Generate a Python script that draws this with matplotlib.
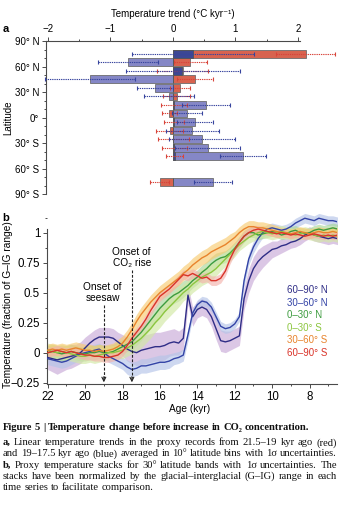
import numpy as np
import matplotlib
matplotlib.use('Agg')
import matplotlib.pyplot as plt
from matplotlib.ticker import MultipleLocator

plt.rcParams['font.family'] = ['Liberation Sans', 'DejaVu Sans']
plt.rcParams['axes.unicode_minus'] = True

# ---------------- Panel a data ----------------
lat_bins = [75, 65, 55, 45, 35, 25, 15, 5, -5, -15, -25, -35, -45, -75]
red_trend = [2.12, 0.28, 0.15, 0.35, 0.11, 0.06, 0.02, -0.06, 0.02, -0.05, 0.01, 0.02, 0.03, -0.21]
red_err = [0.47, 0.26, 0.41, 0.29, 0.16, 0.21, 0.21, 0.12, 0.16, 0.22, 0.24, 0.20, 0.14, 0.15]
blue_trend = [0.32, -0.72, 0.17, -1.32, -0.29, -0.06, 0.53, 0.23, 0.35, 0.31, 0.47, 0.56, 1.12, 0.64]
blue_err = [0.98, 0.48, 0.91, 0.72, 0.29, 0.40, 0.39, 0.24, 0.29, 0.42, 0.53, 0.52, 0.37, 0.31]
lat_ticks = [90, 60, 30, 0, -30, -60, -90]
lat_labels = ['90° N', '60° N', '30° N', '0°', '30° S', '60° S', '90° S']
trend_ticks = [-2, -1, 0, 1, 2]
trend_labels = ['\u22122', '\u22121', '0', '1', '2']

# ---------------- Panel b data ----------------
ages = [22.0, 21.75, 21.5, 21.25, 21.0, 20.75, 20.5, 20.25, 20.0, 19.75,
        19.5, 19.25, 19.0, 18.75, 18.5, 18.25, 18.0, 17.75, 17.5, 17.25,
        17.0, 16.75, 16.5, 16.25, 16.0, 15.75, 15.5, 15.25, 15.0, 14.75,
        14.5, 14.25, 14.0, 13.75, 13.5, 13.25, 13.0, 12.75, 12.5, 12.25,
        12.0, 11.75, 11.5, 11.25, 11.0, 10.75, 10.5, 10.25, 10.0, 9.75,
        9.5, 9.25, 9.0, 8.75, 8.5, 8.25, 8.0, 7.75, 7.5, 7.25,
        7.0, 6.75, 6.5]

n60_90 = [-0.04, -0.05, -0.06, -0.05, -0.04, -0.03, -0.02, 0.00, 0.04, 0.08,
          0.11, 0.13, 0.13, 0.13, 0.12, 0.09, 0.06, 0.03, 0.01, 0.00,
          0.02, 0.03, 0.04, 0.05, 0.05, 0.06, 0.08, 0.09, 0.08, 0.12,
          0.48, 0.30, 0.36, 0.38, 0.36, 0.30, 0.20, 0.10, 0.09, 0.10,
          0.12, 0.14, 0.45, 0.60, 0.70, 0.76, 0.80, 0.83, 0.86, 0.87,
          0.89, 0.90, 0.92, 0.93, 0.95, 0.98, 1.00, 0.98, 0.97, 0.96,
          0.95, 0.96, 0.95]
n30_60 = [-0.05, -0.06, -0.07, -0.08, -0.07, -0.05, -0.03, -0.01, 0.00, 0.01,
          0.02, 0.03, 0.00, -0.03, -0.05, -0.07, -0.09, -0.12, -0.14, -0.13,
          -0.11, -0.11, -0.10, -0.09, -0.08, -0.08, -0.07, -0.05, -0.04, -0.02,
          0.15, 0.33, 0.40, 0.43, 0.42, 0.38, 0.30, 0.22, 0.20, 0.21,
          0.24, 0.30, 0.60, 0.78, 0.88, 0.95, 1.00, 1.03, 1.04, 1.03,
          1.02, 1.03, 1.05, 1.08, 1.10, 1.12, 1.11, 1.10, 1.12, 1.11,
          1.10, 1.10, 1.09]
n0_30 = [0.00, 0.01, 0.00, -0.01, 0.00, 0.01, 0.00, -0.01, -0.01, 0.00,
         0.00, 0.01, 0.00, 0.00, 0.01, 0.03, 0.05, 0.07, 0.09, 0.13,
         0.17, 0.22, 0.27, 0.32, 0.37, 0.41, 0.45, 0.48, 0.50, 0.53,
         0.56, 0.60, 0.63, 0.67, 0.70, 0.74, 0.77, 0.79, 0.80, 0.83,
         0.87, 0.92, 0.97, 1.00, 1.00, 0.98, 0.99, 1.00, 1.01, 1.00,
         0.98, 0.99, 1.01, 1.02, 1.00, 0.99, 1.00, 1.02, 1.03, 1.02,
         1.03, 1.04, 1.03]
s0_30 = [0.02, 0.01, 0.00, 0.01, 0.00, -0.01, -0.02, -0.03, -0.03, -0.02,
         -0.03, -0.02, -0.01, 0.00, 0.00, 0.01, 0.02, 0.04, 0.06, 0.09,
         0.12, 0.16, 0.20, 0.25, 0.29, 0.34, 0.38, 0.42, 0.46, 0.50,
         0.53, 0.57, 0.60, 0.63, 0.65, 0.67, 0.70, 0.74, 0.78, 0.82,
         0.86, 0.90, 0.93, 0.96, 0.98, 1.00, 1.01, 1.00, 0.99, 1.00,
         1.01, 1.00, 0.99, 0.98, 0.99, 1.00, 0.99, 0.98, 0.97, 0.98,
         0.97, 0.98, 0.97]
s30_60 = [0.02, 0.03, 0.02, 0.03, 0.02, 0.03, 0.04, 0.03, 0.02, 0.02,
          0.01, 0.02, 0.01, 0.02, 0.03, 0.05, 0.08, 0.13, 0.19, 0.26,
          0.32, 0.37, 0.42, 0.46, 0.50, 0.53, 0.56, 0.59, 0.62, 0.66,
          0.69, 0.73, 0.76, 0.79, 0.81, 0.84, 0.86, 0.88, 0.90, 0.93,
          0.96, 1.00, 1.03, 1.05, 1.05, 1.04, 1.04, 1.03, 1.02, 1.01,
          1.00, 1.00, 0.99, 1.00, 1.01, 1.00, 0.99, 1.00, 1.01, 1.00,
          1.00, 1.01, 1.00]
s60_90 = [0.00, 0.01, 0.02, 0.01, 0.00, 0.01, 0.00, -0.01, -0.02, -0.02,
          -0.03, -0.03, -0.04, -0.04, -0.03, -0.02, 0.01, 0.06, 0.12, 0.17,
          0.22, 0.28, 0.35, 0.41, 0.47, 0.50, 0.53, 0.57, 0.61, 0.65,
          0.64, 0.66, 0.64, 0.62, 0.63, 0.60, 0.60, 0.62, 0.68, 0.78,
          0.86, 0.92, 0.97, 1.00, 1.02, 1.03, 1.02, 1.01, 1.00, 0.99,
          1.00, 0.99, 0.98, 0.99, 0.98, 0.97, 0.98, 0.99, 0.98, 0.97,
          0.98, 0.97, 0.98]

# 1-sigma half widths
sig_n60_90 = [0.10, 0.11, 0.12, 0.11, 0.10, 0.10, 0.09, 0.09, 0.09, 0.08,
              0.08, 0.08, 0.08, 0.08, 0.08, 0.08, 0.09, 0.10, 0.10, 0.11,
              0.12, 0.12, 0.12, 0.12, 0.12, 0.12, 0.11, 0.11, 0.10, 0.09,
              0.08, 0.08, 0.07, 0.07, 0.07, 0.08, 0.09, 0.09, 0.09, 0.08,
              0.08, 0.08, 0.09, 0.10, 0.10, 0.10, 0.09, 0.08, 0.07, 0.06,
              0.06, 0.05, 0.05, 0.05, 0.05, 0.05, 0.05, 0.05, 0.05, 0.05,
              0.05, 0.05, 0.05]
sig_n30_60 = [0.05, 0.05, 0.05, 0.05, 0.05, 0.05, 0.05, 0.05, 0.05, 0.05,
              0.05, 0.05, 0.05, 0.05, 0.05, 0.05, 0.05, 0.06, 0.06, 0.06,
              0.06, 0.06, 0.06, 0.06, 0.06, 0.06, 0.06, 0.05, 0.05, 0.05,
              0.05, 0.04, 0.04, 0.04, 0.04, 0.04, 0.04, 0.04, 0.04, 0.04,
              0.04, 0.04, 0.05, 0.05, 0.05, 0.05, 0.04, 0.04, 0.04, 0.04,
              0.04, 0.04, 0.04, 0.04, 0.04, 0.04, 0.04, 0.04, 0.04, 0.04,
              0.04, 0.04, 0.04]
sig_n0_30 = [0.06, 0.06, 0.06, 0.06, 0.06, 0.06, 0.06, 0.06, 0.06, 0.06,
             0.06, 0.06, 0.06, 0.06, 0.06, 0.06, 0.06, 0.06, 0.07, 0.07,
             0.07, 0.07, 0.07, 0.07, 0.07, 0.07, 0.07, 0.07, 0.07, 0.07,
             0.06, 0.06, 0.06, 0.06, 0.06, 0.06, 0.06, 0.05, 0.05, 0.05,
             0.05, 0.05, 0.05, 0.04, 0.04, 0.04, 0.04, 0.04, 0.04, 0.04,
             0.04, 0.04, 0.04, 0.04, 0.04, 0.04, 0.04, 0.04, 0.04, 0.04,
             0.04, 0.04, 0.04]
sig_s0_30 = [0.06, 0.06, 0.06, 0.06, 0.06, 0.06, 0.06, 0.06, 0.06, 0.06,
             0.06, 0.06, 0.06, 0.06, 0.06, 0.06, 0.07, 0.07, 0.07, 0.08,
             0.08, 0.08, 0.08, 0.08, 0.08, 0.08, 0.08, 0.08, 0.08, 0.07,
             0.07, 0.07, 0.07, 0.07, 0.07, 0.07, 0.06, 0.06, 0.06, 0.06,
             0.06, 0.05, 0.05, 0.05, 0.05, 0.05, 0.05, 0.05, 0.05, 0.05,
             0.05, 0.05, 0.05, 0.05, 0.05, 0.05, 0.05, 0.05, 0.05, 0.05,
             0.05, 0.05, 0.05]
sig_s30_60 = [0.05, 0.05, 0.05, 0.05, 0.05, 0.05, 0.05, 0.05, 0.05, 0.05,
              0.05, 0.05, 0.05, 0.05, 0.05, 0.06, 0.06, 0.06, 0.06, 0.06,
              0.06, 0.06, 0.06, 0.06, 0.06, 0.06, 0.06, 0.06, 0.06, 0.06,
              0.06, 0.06, 0.06, 0.06, 0.06, 0.06, 0.06, 0.06, 0.06, 0.06,
              0.05, 0.05, 0.05, 0.05, 0.05, 0.05, 0.05, 0.05, 0.05, 0.05,
              0.04, 0.04, 0.04, 0.04, 0.04, 0.04, 0.04, 0.04, 0.04, 0.04,
              0.04, 0.04, 0.04]
sig_s60_90 = [0.04, 0.04, 0.04, 0.04, 0.04, 0.04, 0.04, 0.04, 0.04, 0.04,
              0.04, 0.04, 0.04, 0.04, 0.04, 0.04, 0.04, 0.04, 0.04, 0.04,
              0.04, 0.04, 0.04, 0.04, 0.04, 0.04, 0.04, 0.04, 0.04, 0.04,
              0.04, 0.04, 0.04, 0.04, 0.04, 0.04, 0.04, 0.04, 0.04, 0.04,
              0.04, 0.04, 0.04, 0.04, 0.04, 0.03, 0.03, 0.03, 0.03, 0.03,
              0.03, 0.03, 0.03, 0.03, 0.03, 0.03, 0.03, 0.03, 0.03, 0.03,
              0.03, 0.03, 0.03]

series_names = ['60–90° N', '30–60° N', '0–30° N', '0–30° S', '30–60° S', '60–90° S']
series_vals = [n60_90, n30_60, n0_30, s0_30, s30_60, s60_90]
series_sig = [sig_n60_90, sig_n30_60, sig_n0_30, sig_s0_30, sig_s30_60, sig_s60_90]
line_cols = ['#2f2d86', '#3343a6', '#3d9c3f', '#8cc63f', '#e8832c', '#d93329']
band_cols = ['#c9aad8', '#b4c4e8', '#a9d69a', '#d2e8a4', '#f8cb70', '#f4b3ad']
age_ticks = [22, 20, 18, 16, 14, 12, 10, 8]
frac_ticks = [-0.25, 0, 0.25, 0.5, 0.75, 1]
frac_labels = ['\u22120.25', '0', '0.25', '0.5', '0.75', '1']
onset_ages = [19.0, 17.5]
onset_texts = ['Onset of\nseesaw', 'Onset of\nCO\u2082 rise']

# ---------------- Figure ----------------
W, H = 339, 505
fig = plt.figure(figsize=(W / 100, H / 100), dpi=100)
AX_COL = '#4a4a4a'


def px_axes(l, t, r, b):
    return fig.add_axes([l / W, 1 - b / H, (r - l) / W, (b - t) / H])


def fx(x):
    return x / W


def fy(y):
    return 1 - y / H


# ---- Panel a ----
axa = px_axes(46, 41, 300, 194.5)
axa.set_xlim(-2.025, 2.03)
axa.set_ylim(-90, 90)
for s in ['bottom', 'right']:
    axa.spines[s].set_visible(False)
for s in ['top', 'left']:
    axa.spines[s].set_color(AX_COL)
    axa.spines[s].set_linewidth(0.8)
axa.xaxis.tick_top()
axa.set_xticks(trend_ticks)
axa.set_xticklabels(trend_labels)
axa.xaxis.set_minor_locator(MultipleLocator(0.5))
axa.set_yticks(lat_ticks)
axa.set_yticklabels(lat_labels)
axa.yaxis.set_minor_locator(MultipleLocator(10))
axa.tick_params(which='both', direction='out', color=AX_COL, width=0.7, labelsize=7, pad=2)
axa.tick_params(which='major', length=3)
axa.tick_params(which='minor', length=1.6)
axa.set_facecolor('none')

rt = np.array(red_trend)
bt = np.array(blue_trend)
same = np.sign(rt) == np.sign(bt)
overlap = np.where(same, np.sign(rt) * np.minimum(np.abs(rt), np.abs(bt)), 0.0)

axa.barh(lat_bins, red_trend, height=9.2, color='#d8634f', edgecolor='#6d6d6d', linewidth=0.6,
         zorder=2, clip_on=False)
axa.barh(lat_bins, blue_trend, height=9.2, color='#8587c6', edgecolor='#6d6d6d', linewidth=0.6,
         zorder=3, clip_on=False)
axa.barh(lat_bins, overlap, height=9.2, color='#3d4794', edgecolor='#555555', linewidth=0.6,
         zorder=4, clip_on=False)

eb_r = axa.errorbar(red_trend, lat_bins, xerr=red_err, fmt='none', ecolor='#d8443a',
                    elinewidth=0.8, capsize=1.4, capthick=0.8, zorder=5, clip_on=False)
eb_b = axa.errorbar(blue_trend, lat_bins, xerr=blue_err, fmt='none', ecolor='#37449e',
                    elinewidth=0.8, capsize=1.4, capthick=0.8, zorder=6, clip_on=False)
for eb in (eb_r, eb_b):
    for lc in eb[2]:
        lc.set_linestyle((0, (1.2, 0.8)))
        lc.set_clip_on(False)
    for cl in eb[1]:
        cl.set_clip_on(False)

fig.text(fx(173), fy(14), 'Temperature trend (°C kyr\u207b\u00b9)', ha='center', va='center', fontsize=7)
fig.text(fx(8), fy(118), 'Latitude', ha='center', va='center', rotation=90, fontsize=7)
fig.text(fx(6), fy(29), 'a', ha='center', va='center', fontsize=8, fontweight='bold')

# ---- Panel b ----
axb = px_axes(47, 212, 337, 384)
axb.set_xlim(22.04, 6.53)
axb.set_ylim(-0.261, 1.172)
for s in ['top', 'right']:
    axb.spines[s].set_visible(False)
for s in ['bottom', 'left']:
    axb.spines[s].set_color(AX_COL)
    axb.spines[s].set_linewidth(0.8)
axb.spines['left'].set_bounds(-0.261, 1.03)
axb.set_xticks(age_ticks)
axb.xaxis.set_minor_locator(MultipleLocator(1))
axb.set_yticks(frac_ticks)
axb.set_yticklabels(frac_labels)
axb.yaxis.set_minor_locator(MultipleLocator(0.125))
axb.tick_params(which='both', direction='out', color=AX_COL, width=0.7, labelsize=8.3, pad=2)
axb.tick_params(which='major', length=3)
axb.tick_params(which='minor', length=1.6)
axb.set_facecolor('none')

ag = np.array(ages)
for vals, sig, bc in zip(series_vals, series_sig, band_cols):
    v = np.array(vals)
    s = np.array(sig)
    axb.fill_between(ag, v - s, v + s, color=bc, alpha=0.65, lw=0, zorder=1)
for vals, lc in zip(series_vals, line_cols):
    axb.plot(ag, vals, color=lc, lw=1.0, zorder=3)

# onset arrows
tops = [0.40, 0.69]
for a, tp in zip(onset_ages, tops):
    axb.plot([a, a], [tp, -0.215], color='#222222', lw=0.8, ls=(0, (2.5, 1.5)), zorder=5)
    axb.annotate('', xy=(a, -0.247), xytext=(a, -0.20),
                 arrowprops=dict(arrowstyle='->', color='#222222', lw=0.8, mutation_scale=7,
                                 shrinkA=0, shrinkB=0), zorder=5)
fig.text(fx(102.5), fy(292.5), onset_texts[0], ha='center', va='center', fontsize=7.3, linespacing=1.15)
fig.text(fx(131.7), fy(257.5), onset_texts[1], ha='center', va='center', fontsize=7.3, linespacing=1.15)

# series labels
leg_y0 = 290.0
for i, (nm, lc) in enumerate(zip(series_names, line_cols)):
    fig.text(fx(287), fy(leg_y0 + i * 12.6), nm, ha='left', va='center', fontsize=7, color=lc)

fig.text(fx(190), fy(409), 'Age (kyr)', ha='center', va='center', fontsize=7.3)
fig.text(fx(8), fy(305), 'Temperature (fraction of G\u2013IG range)', ha='center', va='center',
         rotation=90, fontsize=7.3)
fig.text(fx(6), fy(218), 'b', ha='center', va='center', fontsize=8, fontweight='bold')

# ---- Caption ----
SERIF = ['Liberation Serif', 'DejaVu Serif']
renderer = fig.canvas.get_renderer()


def word_width(txt, weight, fs):
    t = fig.text(0, 0, txt, fontsize=fs, family=SERIF, fontweight=weight)
    w = t.get_window_extent(renderer).width
    t.remove()
    return w


caption = [
    ([('Figure 5 | Temperature change before increase in CO\u2082 concentration.', 'bold')], False),
    ([('a,', 'bold'), ('Linear temperature trends in the proxy records from 21.5\u201319 kyr ago (red)', 'normal')], True),
    ([('and 19\u201317.5 kyr ago (blue) averaged in 10° latitude bins with 1\u03c3 uncertainties.', 'normal')], True),
    ([('b,', 'bold'), ('Proxy temperature stacks for 30° latitude bands with 1\u03c3 uncertainties. The', 'normal')], True),
    ([('stacks have been normalized by the glacial\u2013interglacial (G\u2013IG) range in each', 'normal')], True),
    ([('time series to facilitate comparison.', 'normal')], False),
]
cap_y = [427.5, 442.7, 453.9, 465.2, 476.6, 488.0]
X0, X1 = 3.0, 337.0
BASE_FS = 7.0


def line_words(runs):
    out = []
    for txt, wt in runs:
        for w in txt.split(' '):
            out.append((w, wt))
    return out


# choose a size so that the justified lines fill the measure with slightly tight spacing
ratios = []
for runs, justify in caption:
    if justify:
        ws = line_words(runs)
        nat = sum(word_width(w, wt, BASE_FS) for w, wt in ws) + \
            (len(ws) - 1) * (word_width('a a', 'normal', BASE_FS) - 2 * word_width('a', 'normal', BASE_FS))
        ratios.append((X1 - X0) / nat)
CAP_FS = BASE_FS * min(ratios) * 0.995

space_w = word_width('a a', 'normal', CAP_FS) - 2 * word_width('a', 'normal', CAP_FS)
for (runs, justify), yy in zip(caption, cap_y):
    words = line_words(runs)
    widths = [word_width(w, wt, CAP_FS) for w, wt in words]
    if justify and len(words) > 1:
        gap = (X1 - X0 - sum(widths)) / (len(words) - 1)
    else:
        gap = space_w
    x = X0
    for (w, wt), wd in zip(words, widths):
        fig.text(fx(x), fy(yy), w, ha='left', va='center', fontsize=CAP_FS, family=SERIF,
                 fontweight=wt, color='#111111')
        x += wd + gap

fig.savefig('out.png', dpi=100)
